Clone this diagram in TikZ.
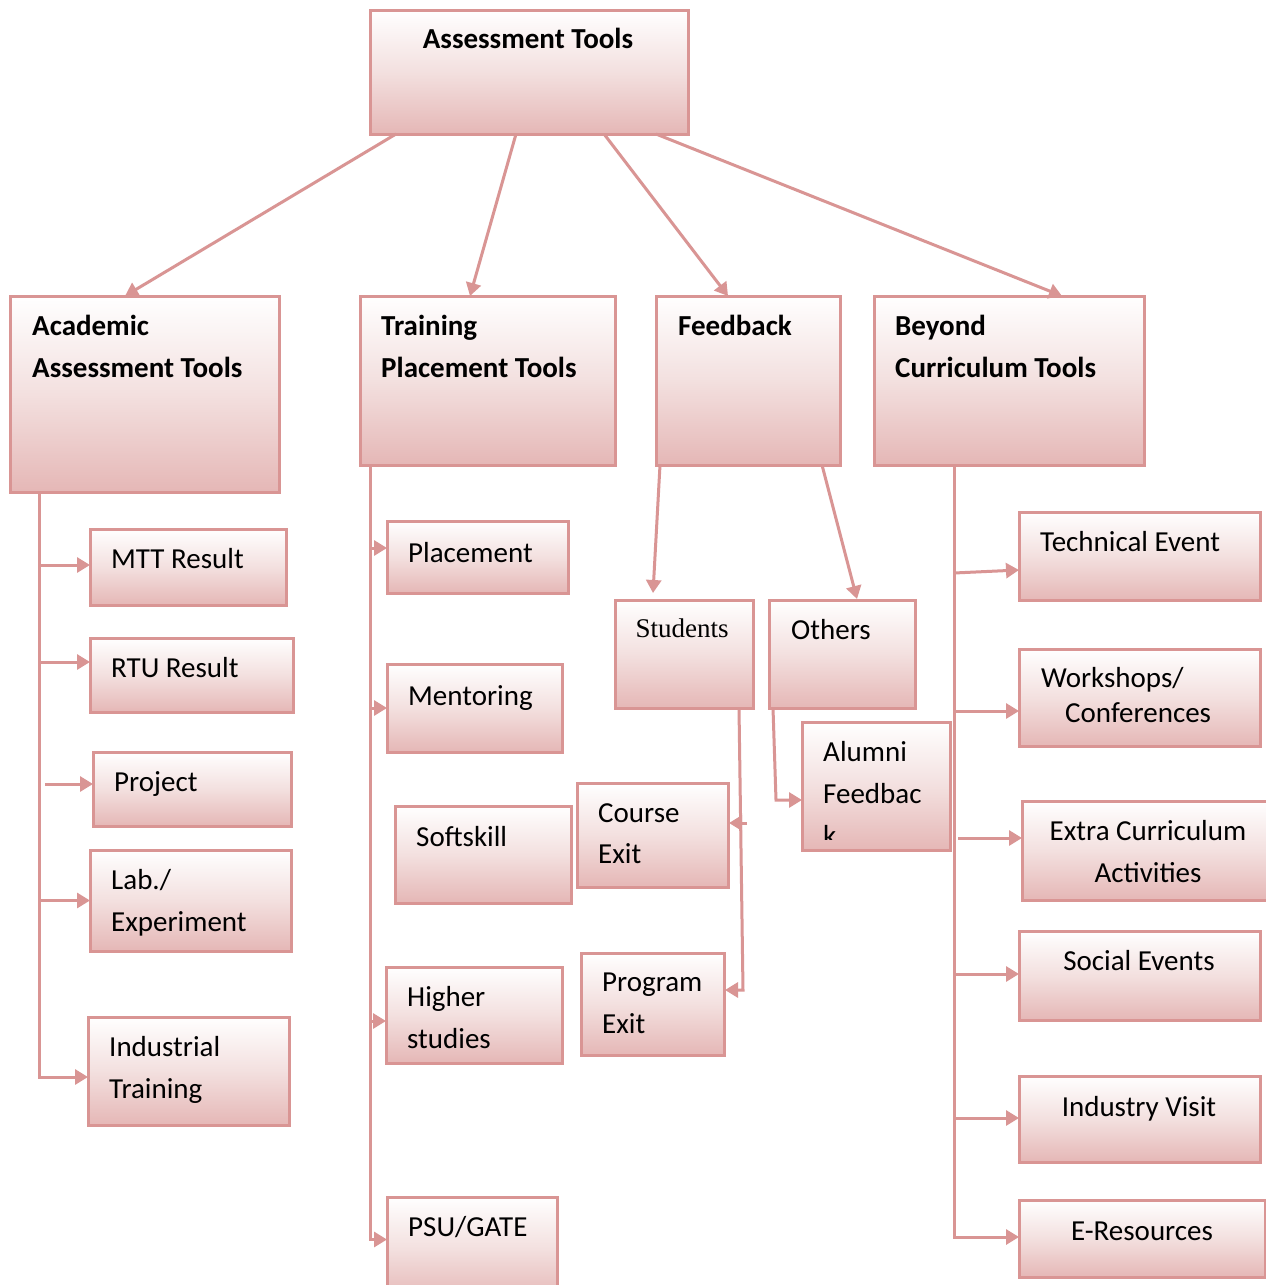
\documentclass[tikz,border=0pt]{standalone}
\usepackage{fontspec}
\setmainfont{Carlito}
\newfontfamily\serifst{Liberation Serif}
\usetikzlibrary{arrows.meta,calc}
\definecolor{pline}{RGB}{217,149,148}
\definecolor{pbot}{RGB}{229,183,182}
\definecolor{pmid}{RGB}{243,224,223}
\tikzset{
  box/.style={draw=pline, line width=3pt, top color=white, bottom color=pbot, middle color=pmid, inner sep=0pt, outer sep=0pt},
  ln/.style={draw=pline, line width=3pt},
  arr/.style={ln, -{Triangle[length=13pt,width=15pt]}},
  lbl/.style={font=\fontsize{29}{35}\selectfont, inner sep=0pt, anchor=base west},
  lblb/.style={font=\fontsize{29}{35}\selectfont\bfseries, inner sep=0pt, anchor=base west},
  lblc/.style={font=\fontsize{29}{35}\selectfont, inner sep=0pt, anchor=base},
}
\newcommand\bx[5]{\node[box,minimum width={(#4-#2)*1pt},minimum height={(#5-#3)*1pt}] (#1) at ({(#2+#4)/2},{(#3+#5)/2}) {};}
\begin{document}
\begin{tikzpicture}[x=1pt,y=-1pt]
\clip (0,0) rectangle (1266,1285);
\fill[white] (0,0) rectangle (1266,1285);
% boxes
\bx{top}{370}{10}{688}{134}
\bx{acad}{10}{296}{279}{492}
\bx{train}{360}{296}{615}{465}
\bx{feed}{656}{296}{840}{465}
\bx{beyond}{874}{296}{1144}{465}
\bx{mtt}{90}{529}{286}{605}
\bx{rtu}{90}{638}{293}{712}
\bx{proj}{93}{752}{291}{826}
\bx{lab}{90}{850}{291}{951}
\bx{ind}{88}{1017}{289}{1125}
\bx{place}{387}{521}{568}{593}
\bx{ment}{387}{664}{562}{752}
\bx{soft}{395}{806}{571}{903}
\bx{higher}{386}{967}{562}{1063}
\bx{psu}{387}{1197}{557}{1300}
\bx{stud}{615}{600}{753}{708}
\bx{oth}{769}{600}{915}{708}
\bx{alum}{802}{722}{950}{850}
\bx{course}{577}{783}{728}{887}
\bx{prog}{581}{953}{724}{1055}
\bx{tech}{1019}{512}{1260}{600}
\bx{work}{1019}{649}{1260}{746}
\bx{extra}{1022}{801}{1280}{900}
\bx{social}{1019}{931}{1260}{1020}
\bx{indv}{1019}{1076}{1260}{1162}
\bx{eres}{1019}{1200}{1265}{1277}
% top-level arrows
\draw[arr] ([xshift=26pt]top.south west) -- ([xshift=115pt]acad.north west);
\draw[arr] ([xshift=146pt]top.south west) -- ([xshift=110pt]train.north west);
\draw[arr] ([xshift=234pt]top.south west) -- ([xshift=72pt]feed.north west);
\draw[arr] ([xshift=286pt]top.south west) -- ([xshift=188pt]beyond.north west);
% academic trunk
\coordinate (ta) at ([xshift=29pt]acad.south west);
\draw[arr] (ta) |- ([yshift=-6pt]ind.west);
\draw[arr] ([yshift=2pt]ta |- mtt.west) -- ([yshift=2pt]mtt.west);
\draw[arr] ([xshift=2pt,yshift=13pt]ta |- rtu.west) -- ([yshift=13pt]rtu.west);
\draw[arr] ([xshift=6pt,yshift=5pt]ta |- proj.west) -- ([yshift=5pt]proj.west);
\draw[arr] ([xshift=2pt]ta |- lab.west) -- (lab.west);
% training trunk
\coordinate (tt) at ([xshift=10pt]train.south west);
\draw[arr] (tt) |- ([yshift=9pt]psu.west);
\draw[arr] ([yshift=9pt]tt |- place.west) -- ([yshift=9pt]place.west);
\draw[arr] (tt |- ment.west) -- (ment.west);
\draw[arr] ([yshift=-6pt]tt |- higher.west) -- ([yshift=-6pt]higher.west);
% beyond trunk
\coordinate (tb) at ([xshift=80pt]beyond.south west);
\draw[arr] (tb) |- ([yshift=1.5pt]eres.west);
\draw[arr] ([yshift=-17pt]tb |- tech.west) -- ([yshift=-14pt]tech.west);
\draw[arr] ([yshift=-13.5pt]tb |- work.west) -- ([yshift=-13.5pt]work.west);
\draw[arr] ([xshift=4pt,yshift=12.5pt]tb |- extra.west) -- ([yshift=12.5pt]extra.west);
\draw[arr] ([yshift=1.5pt]tb |- social.west) -- ([yshift=1.5pt]social.west);
\draw[arr] ([yshift=1pt]tb |- indv.west) -- ([yshift=1pt]indv.west);
% feedback
\draw[arr] ([xshift=4pt]feed.south west) -- ([xshift=38pt,yshift=7pt]stud.north west);
\draw[arr] ([xshift=166pt]feed.south west) -- ([xshift=88pt,yshift=1pt]oth.north west);
\coordinate (ob) at ([xshift=4pt]oth.south west);
\coordinate (oc) at ([xshift=7pt,yshift=-92pt]oth.south west);
\draw[arr] (ob) -- (oc) -- ([yshift=-14pt]alum.west);
\coordinate (sb) at ([xshift=124pt]stud.south west);
\coordinate (sc) at ([xshift=19pt,yshift=14pt]prog.east);
\draw[arr] (sb) -- (sc) -- ([xshift=1pt,yshift=14pt]prog.east);
\coordinate (cs) at ([xshift=19pt,yshift=12pt]course.east);
\draw[arr] (cs) -- ([xshift=1pt,yshift=12pt]course.east);
% texts
\node[lblb,anchor=base] (t0) at (528,48) {Assessment Tools};
\node[lblb] (t1) at (32,335) {Academic};
\node[lblb] (t2) at (32,377) {Assessment Tools};
\node[lblb] (t3) at (381,335) {Training};
\node[lblb] (t4) at (381,377) {Placement Tools};
\node[lblb] (t5) at (678,335) {Feedback};
\node[lblb] (t6) at (895,335) {Beyond};
\node[lblb] (t7) at (895,377) {Curriculum Tools};
\node[lbl] (t8) at (111,568) {MTT Result};
\node[lbl] (t9) at (111,677) {RTU Result};
\node[lbl] (t10) at (114,791) {Project};
\node[lbl] (t11) at (111,889) {Lab./};
\node[lbl] (t12) at (111,931) {Experiment};
\node[lbl] (t13) at (109,1056) {Industrial};
\node[lbl] (t14) at (109,1098) {Training};
\node[lbl] (t15) at (408,562) {Placement};
\node[lbl] (t16) at (408,705) {Mentoring};
\node[lbl] (t17) at (416,846) {Softskill};
\node[lbl] (t18) at (407,1006) {Higher};
\node[lbl] (t19) at (407,1048) {studies};
\node[lbl] (t20) at (408,1236) {PSU/GATE};
\node[lblc,font=\serifst\fontsize{27}{32}\selectfont] (t21) at (682,637) {Students};
\node[lbl] (t22) at (791,639) {Others};
\node[lbl] (t23) at (823,761) {Alumni};
\node[lbl] (t24) at (823,803) {Feedbac};
\begin{scope}
\clip (802,722) rectangle (950,839);
\node[lbl] (t25) at (823,845) {k};
\end{scope}
\node[lbl] (t26) at (598,822) {Course};
\node[lbl] (t27) at (598,863) {Exit};
\node[lbl] (t28) at (602,991) {Program};
\node[lbl] (t29) at (602,1033) {Exit};
\node[lbl] (t30) at (1040,551) {Technical Event};
\node[lbl] (t31) at (1041,687) {Workshops/};
\node[lbl] (t32) at (1065,722) {Conferences};
\node[lblc] (t33) at (1148,840) {Extra Curriculum};
\node[lblc] (t34) at (1148,882) {Activities};
\node[lblc] (t35) at (1139,970) {Social Events};
\node[lblc] (t36) at (1139,1116) {Industry Visit};
\node[lblc] (t37) at (1142,1240) {E-Resources};
\end{tikzpicture}
\end{document}
